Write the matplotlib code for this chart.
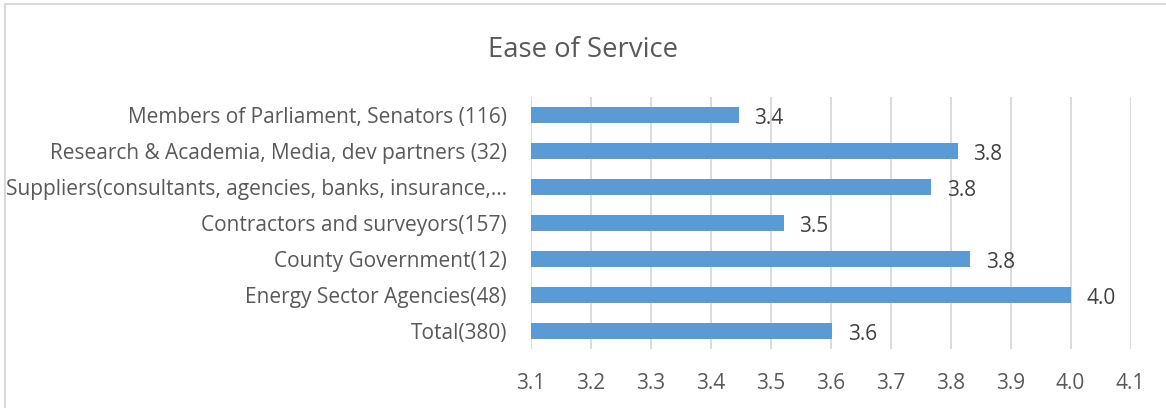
import matplotlib.pyplot as plt
from matplotlib.patches import Rectangle

groups = [
    "Total(380)",
    "Energy Sector Agencies(48)",
    "County Government(12)",
    "Contractors and surveyors(157)",
    "Suppliers(consultants, agencies, banks, insurance,…",
    "Research & Academia, Media, dev partners (32)",
    "Members of Parliament, Senators (116)",
]
scores = [3.603, 4.0, 3.833, 3.522, 3.768, 3.812, 3.447]
xticks = [3.1, 3.2, 3.3, 3.4, 3.5, 3.6, 3.7, 3.8, 3.9, 4.0, 4.1]

plt.rcParams['font.family'] = ['Open Sans', 'DejaVu Sans']
text_col = '#595959'

fig = plt.figure(figsize=(11.66, 4.08), dpi=100)
ax = fig.add_axes([0.455, 0.1446, 0.5146, 0.6176])

y = range(len(groups))
ax.barh(y, [s - 3.1 for s in scores], left=3.1, height=0.42,
        color='#5b9bd5', zorder=3)
for yi, s in zip(y, scores):
    ax.text(s + 0.026, yi - 0.1, f"{s:.1f}", va='center', ha='left',
            fontsize=15, color='#404040')

ax.set_xlim(3.1, 4.1)
ax.set_ylim(-0.5, len(groups) - 0.5)
ax.set_xticks(xticks)
ax.set_xticklabels([f"{t:.1f}" for t in xticks], fontsize=15, color=text_col)
ax.set_yticks(list(y))
ax.set_yticklabels(groups, fontsize=15, color=text_col)
ax.tick_params(length=0)
ax.tick_params(axis='x', pad=17)
ax.tick_params(axis='y', pad=17)
ax.grid(axis='x', color='#d9d9d9', lw=1.3, zorder=0)
for sp in ax.spines.values():
    sp.set_visible(False)

fig.text(0.5, 0.878, "Ease of Service", ha='center', va='center',
         fontsize=19.8, color=text_col)

# chart frame
fig.add_artist(Rectangle((4.5 / 1166, -0.1), 1.2, 1.1 - 4.5 / 408,
                         transform=fig.transFigure, fill=False,
                         edgecolor='#d9d9d9', lw=1.5))

fig.savefig('out.png')
